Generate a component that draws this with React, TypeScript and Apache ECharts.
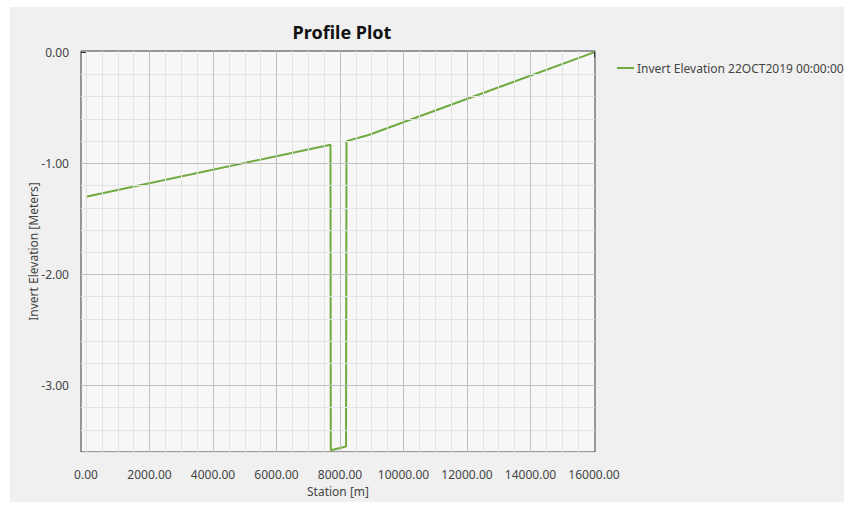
import React, { useEffect, useRef } from "react";
import * as echarts from "echarts";

const stations = [0, 7700, 7710, 8190, 8205, 8900, 16000];
const elevations = [-1.3, -0.832, -3.585, -3.55, -0.8, -0.745, 0.0];
const seriesName = "Invert Elevation 22OCT2019 00:00:00";

const xMajorTicks = [0, 2000, 4000, 6000, 8000, 10000, 12000, 14000, 16000];
const xMinorTicks: number[] = [];
for (let v = 0; v <= 16000; v += 500) xMinorTicks.push(v);
const yMajorTicks = [-3, -2, -1, 0];
const yMinorTicks: number[] = [];
for (let k = 0; k <= 18; k++) yMinorTicks.push(Math.round((-3.6 + k * 0.2) * 10) / 10);

export default function App() {
  const ref = useRef<HTMLDivElement>(null);
  useEffect(() => {
    document.body.style.margin = "0";
    const chart = echarts.init(ref.current!, undefined, { renderer: "svg" });
    const font = "'Noto Sans', sans-serif";
    const minorColor = "#e3e3e3";
    const majorColor = "#c0c0c0";
    const gridLines: any[] = [];
    xMinorTicks.forEach((v) => {
      if (xMajorTicks.indexOf(v) < 0)
        gridLines.push({ xAxis: v, lineStyle: { color: minorColor, width: 1, type: "solid" } });
    });
    yMinorTicks.forEach((v) => {
      if (yMajorTicks.indexOf(v) < 0)
        gridLines.push({ yAxis: v, lineStyle: { color: minorColor, width: 1, type: "solid" } });
    });
    xMajorTicks.forEach((v) => {
      if (v > 0 && v < 16000)
        gridLines.push({ xAxis: v, lineStyle: { color: majorColor, width: 1, type: "solid" } });
    });
    gridLines.push({ xAxis: 0, lineStyle: { color: minorColor, width: 1, type: "solid" } });
    yMajorTicks.forEach((v) => {
      if (v < 0) gridLines.push({ yAxis: v, lineStyle: { color: majorColor, width: 1, type: "solid" } });
    });

    chart.setOption({
      animation: false,
      backgroundColor: "#ffffff",
      graphic: [
        {
          type: "rect",
          z: -10,
          silent: true,
          shape: { x: 10, y: 7, width: 834, height: 495 },
          style: { fill: "#f0f0f0" },
        },
      ],
      title: {
        text: "Profile Plot",
        left: 337,
        textAlign: "center",
        top: 18,
        textStyle: { fontFamily: font, fontSize: 18, fontWeight: "bold", color: "#111" },
      },
      legend: {
        data: [seriesName],
        left: 611,
        top: 57,
        itemWidth: 17,
        itemHeight: 2,
        itemGap: 4,
        textStyle: { fontFamily: font, fontSize: 12, color: "#444", padding: [0, 0, 0, -2] },
      },
      grid: {
        left: 81,
        top: 51,
        right: 249,
        bottom: 56,
        show: true,
        backgroundColor: "#f7f7f7",
        borderColor: "#3a3a3a",
        borderWidth: 1,
      },
      xAxis: {
        type: "value",
        min: -158,
        max: 16032,
        name: "Station [m]",
        nameLocation: "middle",
        nameGap: 33,
        nameMoveOverlap: false,
        nameTextStyle: { fontFamily: font, fontSize: 12, color: "#444" },
        axisLine: { show: false },
        axisTick: {
          show: true,
          customValues: xMinorTicks,
          length: 5,
          lineStyle: { color: "#333" },
        },
        axisLabel: {
          customValues: xMajorTicks,
          formatter: (v: number) => v.toFixed(2),
          margin: 16,
          fontFamily: font,
          fontSize: 12,
          color: "#444",
        },
        splitLine: { show: false },
      },
      yAxis: {
        type: "value",
        min: -3.6,
        max: 0.012,
        name: "Invert Elevation [Meters]",
        nameLocation: "middle",
        nameGap: 42,
        nameMoveOverlap: false,
        nameTextStyle: { fontFamily: font, fontSize: 12, color: "#444" },
        axisLine: { show: false },
        axisTick: {
          show: true,
          customValues: yMinorTicks,
          length: 5,
          lineStyle: { color: "#333" },
        },
        axisLabel: {
          customValues: yMajorTicks,
          formatter: (v: number) => {
            const r = Math.round(v * 100) / 100;
            return (r === 0 ? 0 : r).toFixed(2);
          },
          margin: 12,
          fontFamily: font,
          fontSize: 12,
          color: "#444",
        },
        splitLine: { show: false },
      },
      series: [
        {
          name: "grid",
          type: "line",
          z: 1,
          data: [],
          silent: true,
          markLine: {
            silent: true,
            symbol: ["none", "none"],
            label: { show: false },
            animation: false,
            data: gridLines,
          },
        },
        {
          name: seriesName,
          type: "line",
          z: 3,
          symbol: "none",
          data: stations.map((s, i) => [s, elevations[i]]),
          lineStyle: { color: "#6faa3f", width: 2 },
          itemStyle: { color: "#6faa3f" },
        },
      ],
    });
    return () => chart.dispose();
  }, []);
  return <div ref={ref} style={{ width: 844, height: 508 }} />;
}
